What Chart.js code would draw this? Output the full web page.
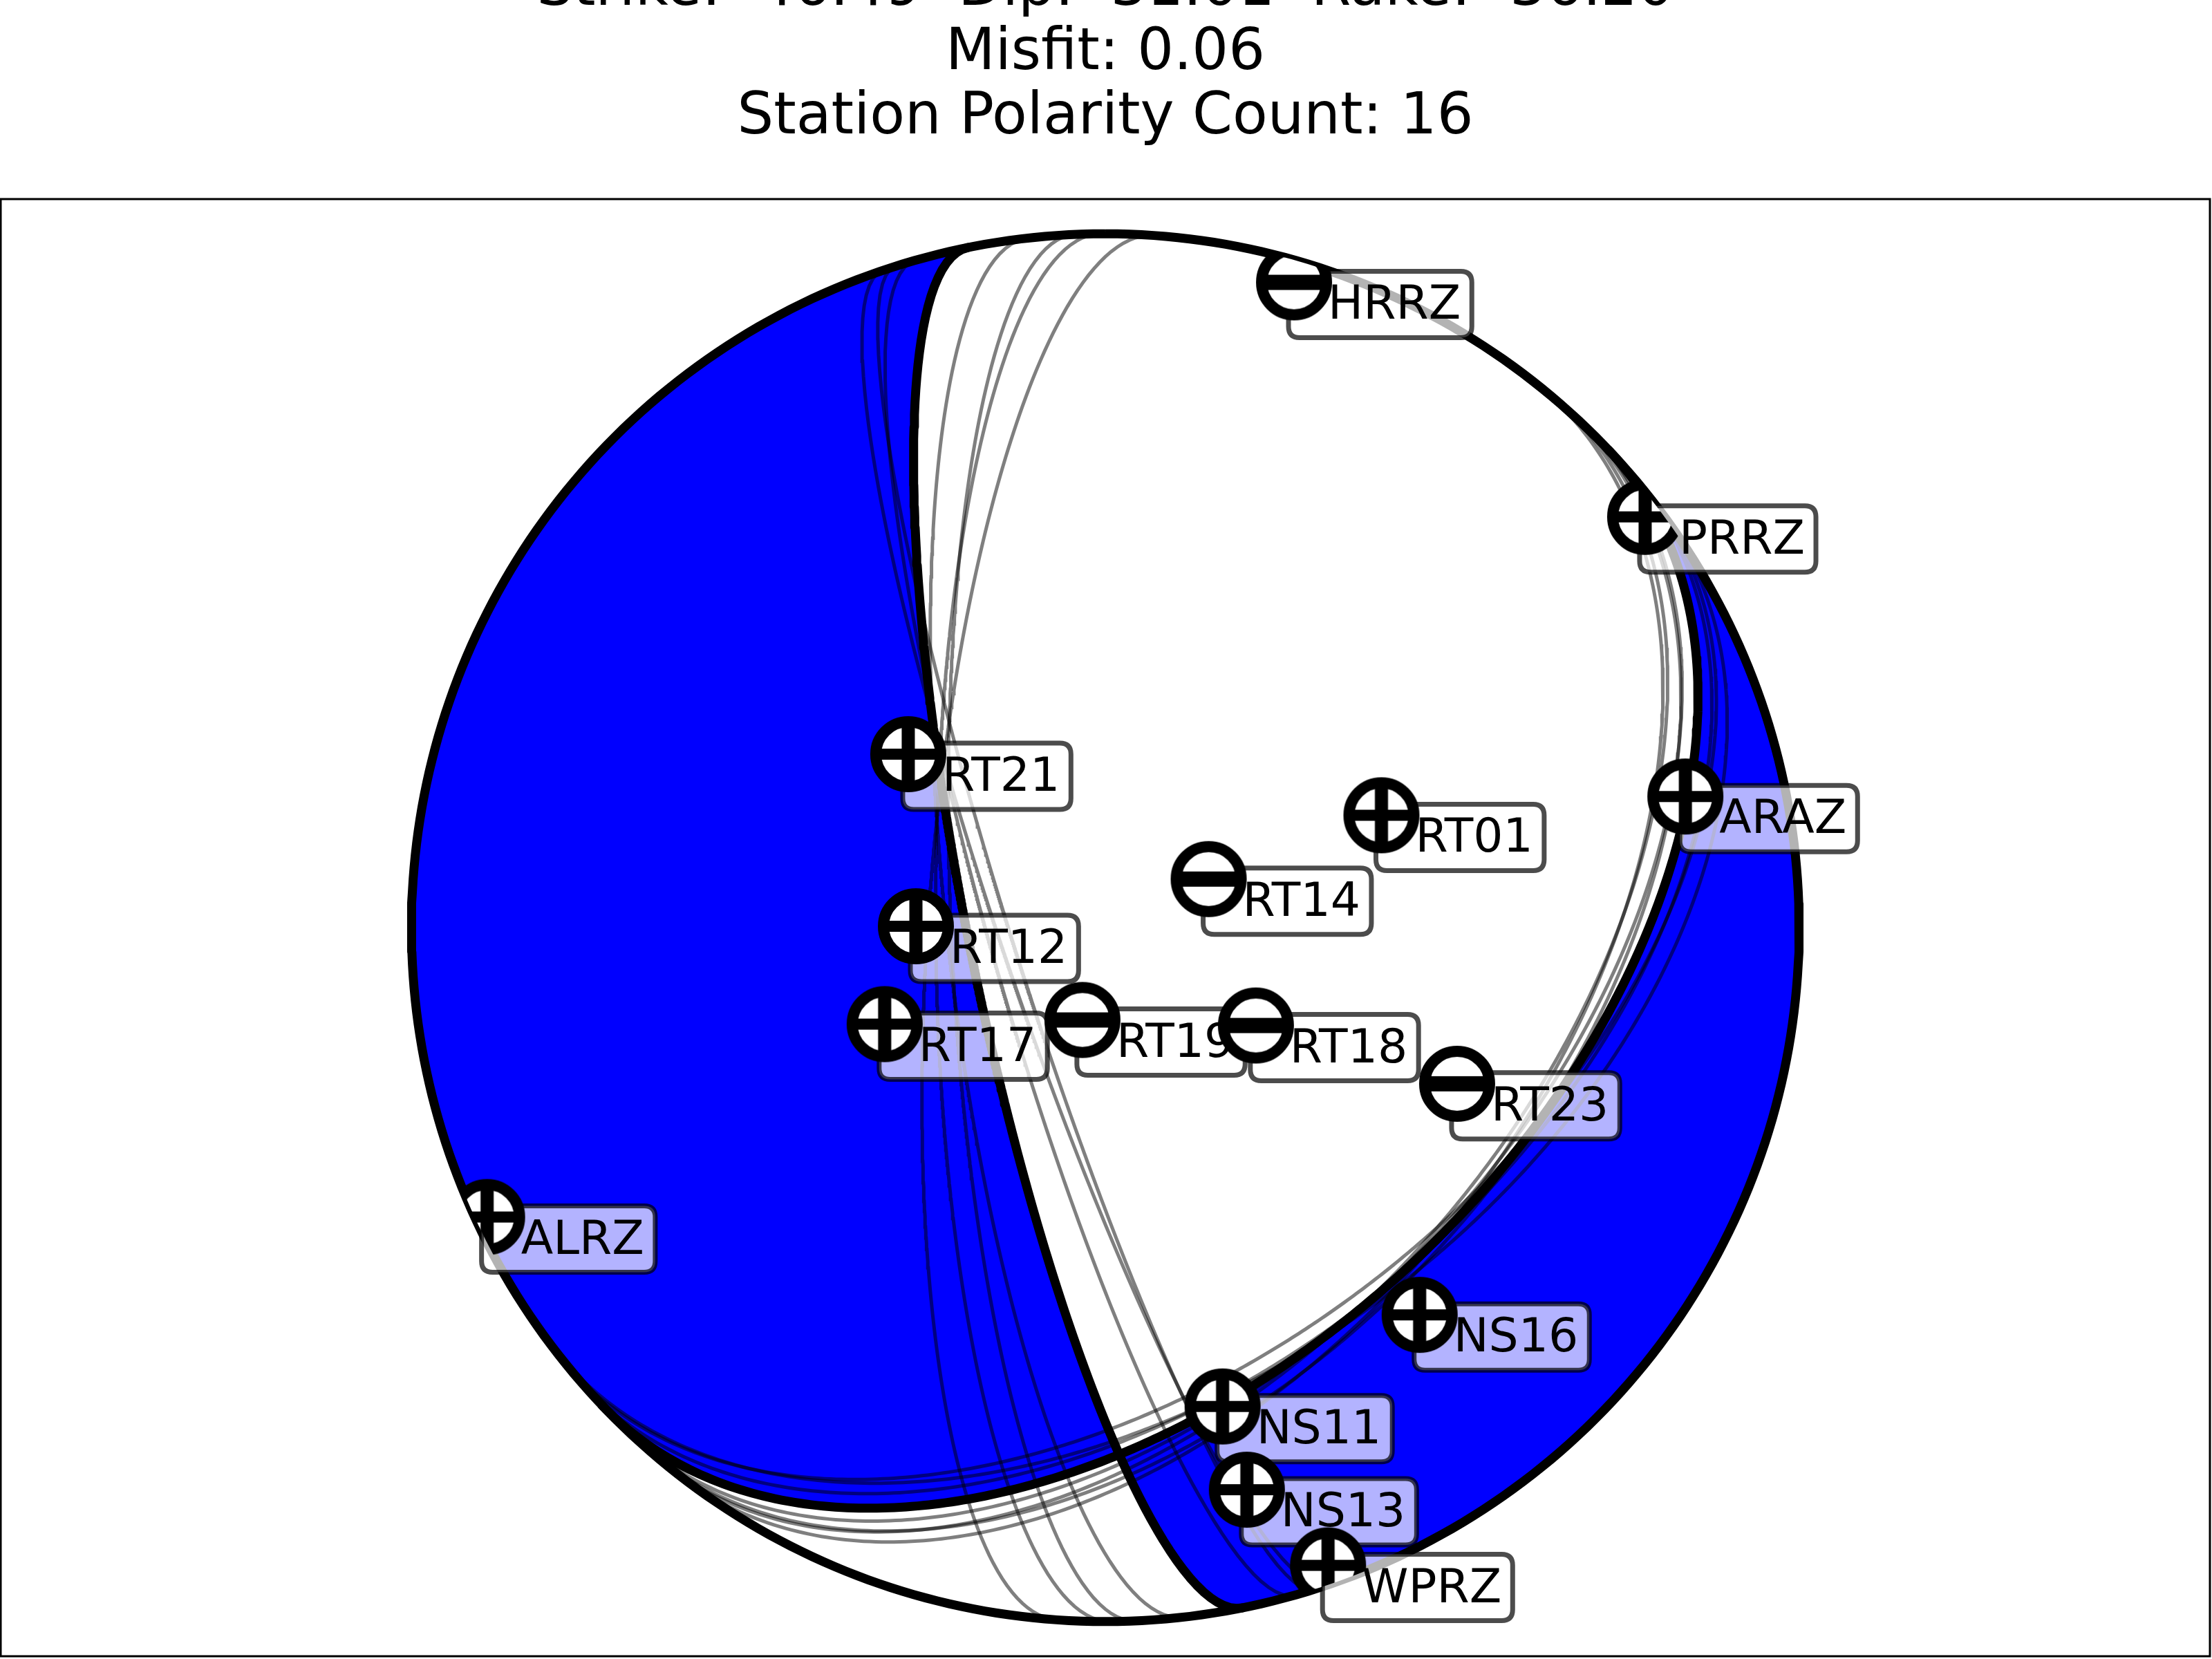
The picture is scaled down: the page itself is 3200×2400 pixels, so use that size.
<!DOCTYPE html>
<html>
<head>
<meta charset="utf-8">
<style>
  html, body { margin: 0; padding: 0; background: #ffffff; }
  #wrap { width: 3200px; height: 2400px; position: relative; }
  canvas { display: block; }
</style>
<script src="https://cdn.jsdelivr.net/npm/chart.js@4.4.1/dist/chart.umd.min.js"></script>
</head>
<body>
<div id="wrap"><canvas id="c" width="3200" height="2400"></canvas></div>
<script>
// ---------------- data ----------------
const titleLines = [
  'Strike:  46.49  Dip:  31.01  Rake: -36.20',
  'Misfit: 0.06',
  'Station Polarity Count: 16'
];
// best double-couple solution: strike, dip, rake (degrees)
const bestMechanism = [46.49, 31.01, -36.20];

// alternative (acceptable) nodal planes: strike / dip (degrees)
const altStrikeA = [161.3, 162.4, 164.1, 173.6, 177.5, 179.6, 184.0];
const altDipA    = [76.5, 78.0, 75.0, 69.5, 70.0, 68.0, 67.0];
const altStrikeB = [38.0, 40.0, 41.5, 43.0, 50.0, 52.0, 53.5];
const altDipB    = [31.0, 32.0, 30.0, 31.5, 31.0, 32.5, 30.0];

// stations (projected position on the focal sphere, unit radius)
const stationNames = ['HRRZ','PRRZ','RT21','RT01','ARAZ','RT14','RT12','RT17',
                      'RT19','RT18','RT23','ALRZ','NS16','NS11','NS13','WPRZ'];
const stationX = [0.272, 0.778, -0.284, 0.398, 0.836, 0.149, -0.273, -0.318,
                  -0.033, 0.217, 0.507, -0.891, 0.453, 0.169, 0.204, 0.321];
const stationY = [0.930, 0.592, 0.250, 0.162, 0.189, 0.070, 0.002, -0.139,
                  -0.133, -0.141, -0.225, -0.417, -0.558, -0.690, -0.810, -0.919];
const stationPolarity = ['-','+','+','+','+','-','+','+',
                         '-','-','-','+','+','+','+','+'];

// axis limits (equal aspect)
const xLimits = [-1.592, 1.592];
const yLimits = [-1.05, 1.05];

// ---------------- geometry helpers ----------------
const D2R = Math.PI / 180;

function auxPlane(strike, dip, rake) {
  const s = strike * D2R, d = dip * D2R, r = rake * D2R;
  let n = Math.cos(r) * Math.cos(s) + Math.sin(r) * Math.cos(d) * Math.sin(s);
  let e = Math.cos(r) * Math.sin(s) - Math.sin(r) * Math.cos(d) * Math.cos(s);
  let dn = -Math.sin(r) * Math.sin(d);
  if (dn > 0) { n = -n; e = -e; dn = -dn; }
  const dipDir = Math.atan2(e, n) / D2R;
  const dip2 = Math.acos(Math.min(1, -dn)) / D2R;
  const strike2 = (((dipDir - 90) % 360) + 360) % 360;
  return [strike2, dip2];
}

// nodal line as drawn by beachball routines (half ellipse)
function nodalCurve(strike, dip, n) {
  n = n || 360;
  const b = (90 - dip) / 90;
  const pts = [];
  for (let k = 0; k <= n; k++) {
    const phi = Math.PI * k / n;
    const s = Math.sin(phi), c = Math.cos(phi);
    const r = b / Math.sqrt(s * s + b * b * c * c);
    const az = strike * D2R + phi;
    pts.push({x: r * Math.sin(az), y: r * Math.cos(az)});
  }
  return pts;
}

function arcPts(az0, az1) {
  const pts = [];
  const step = az1 > az0 ? 1 : -1;
  const n = Math.ceil(Math.abs(az1 - az0));
  for (let k = 0; k <= n; k++) {
    const az = (k === n ? az1 : az0 + step * k) * D2R;
    pts.push({x: Math.sin(az), y: Math.cos(az)});
  }
  return pts;
}

function intersect(P, Q) {
  for (let i = 0; i < P.length - 1; i++) {
    const p1 = P[i], p2 = P[i + 1];
    for (let j = 0; j < Q.length - 1; j++) {
      const p3 = Q[j], p4 = Q[j + 1];
      const den = (p2.x - p1.x) * (p4.y - p3.y) - (p2.y - p1.y) * (p4.x - p3.x);
      if (Math.abs(den) < 1e-14) continue;
      const t = ((p3.x - p1.x) * (p4.y - p3.y) - (p3.y - p1.y) * (p4.x - p3.x)) / den;
      const u = ((p3.x - p1.x) * (p2.y - p1.y) - (p3.y - p1.y) * (p2.x - p1.x)) / den;
      if (t >= 0 && t <= 1 && u >= 0 && u <= 1) {
        return {i, j, pt: {x: p1.x + t * (p2.x - p1.x), y: p1.y + t * (p2.y - p1.y)}};
      }
    }
  }
  return null;
}

const s1 = bestMechanism[0], d1 = bestMechanism[1];
const [s2, d2] = auxPlane(bestMechanism[0], bestMechanism[1], bestMechanism[2]);
const plane1 = nodalCurve(s1, d1);
const plane2 = nodalCurve(s2, d2);
const cross = intersect(plane1, plane2);
const iB = cross.i, iA = cross.j, I = cross.pt;

// compressional lobe west of plane 2
const lobeWest = [].concat(
  arcPts(s1 + 180, s2 + 180),
  plane2.slice(iA + 1).reverse(),
  [I],
  plane1.slice(iB + 1)
);
// compressional lobe south-east of plane 1
const lobeEast = [].concat(
  plane1.slice(0, iB + 1),
  [I],
  plane2.slice(0, iA + 1).reverse(),
  arcPts(s2, s1)
);
const outline = arcPts(0, 360);

// ---------------- markers ----------------
function makeMarker(pol) {
  const size = 120;
  const c = document.createElement('canvas');
  c.width = size; c.height = size;
  const g = c.getContext('2d');
  const m = size / 2, R = 47;
  g.beginPath();
  g.arc(m, m, R, 0, Math.PI * 2);
  g.fillStyle = '#ffffff';
  g.fill();
  g.save();
  g.clip();
  g.fillStyle = '#000000';
  if (pol === '+') {
    g.fillRect(m - R, m - 8, 2 * R, 16);
    g.fillRect(m - 9.5, m - R, 19, 2 * R);
  } else {
    g.fillRect(m - R, m - 11, 2 * R, 22);
  }
  g.restore();
  g.beginPath();
  g.arc(m, m, R, 0, Math.PI * 2);
  g.lineWidth = 16;
  g.strokeStyle = '#000000';
  g.stroke();
  return c;
}
const markerImgs = stationPolarity.map(makeMarker);

// ---------------- datasets ----------------
const datasets = [];
function lineDs(points, color, width, order, extra) {
  return Object.assign({
    data: points,
    showLine: true,
    borderColor: color,
    borderWidth: width,
    pointRadius: 0,
    fill: false,
    tension: 0,
    order: order
  }, extra || {});
}
datasets.push(lineDs(lobeWest, 'rgba(0,0,0,0)', 0, 6, {fill: 'shape', backgroundColor: '#0000ff'}));
datasets.push(lineDs(lobeEast, 'rgba(0,0,0,0)', 0, 6, {fill: 'shape', backgroundColor: '#0000ff'}));
for (let k = 0; k < altStrikeA.length; k++) {
  datasets.push(lineDs(nodalCurve(altStrikeA[k], altDipA[k]), 'rgba(0,0,0,0.5)', 5, 4));
}
for (let k = 0; k < altStrikeB.length; k++) {
  datasets.push(lineDs(nodalCurve(altStrikeB[k], altDipB[k]), 'rgba(0,0,0,0.5)', 5, 4));
}
datasets.push(lineDs(plane1, '#000000', 13, 3, {borderCapStyle: 'round', borderJoinStyle: 'round'}));
datasets.push(lineDs(plane2, '#000000', 13, 3, {borderCapStyle: 'round', borderJoinStyle: 'round'}));
datasets.push(lineDs(outline, '#000000', 13, 3, {borderJoinStyle: 'round'}));
datasets.push({
  role: 'stations',
  data: stationX.map((x, i) => ({x: x, y: stationY[i]})),
  showLine: false,
  pointStyle: markerImgs,
  pointRadius: 55,
  pointHoverRadius: 55,
  order: 0
});

// ---------------- plugins ----------------
const stationPlugin = {
  id: 'stationPlugin',
  beforeDatasetDraw(chart, args) {
    const ds = chart.data.datasets[args.index];
    if (ds.role !== 'stations') return;
    const ctx = chart.ctx;
    const xs = chart.scales.x, ys = chart.scales.y;
    // labels (under markers)
    ctx.save();
    ctx.font = '68px "DejaVu Sans"';
    ctx.textBaseline = 'alphabetic';
    ctx.textAlign = 'left';
    for (let i = 0; i < stationNames.length; i++) {
      const px = xs.getPixelForValue(stationX[i]);
      const py = ys.getPixelForValue(stationY[i]);
      const tw = ctx.measureText(stationNames[i]).width;
      const bx = px - 8, by = py - 16, bw = tw + 57 + 16, bh = 96, rr = 16;
      ctx.beginPath();
      ctx.moveTo(bx + rr, by);
      ctx.lineTo(bx + bw - rr, by);
      ctx.quadraticCurveTo(bx + bw, by, bx + bw, by + rr);
      ctx.lineTo(bx + bw, by + bh - rr);
      ctx.quadraticCurveTo(bx + bw, by + bh, bx + bw - rr, by + bh);
      ctx.lineTo(bx + rr, by + bh);
      ctx.quadraticCurveTo(bx, by + bh, bx, by + bh - rr);
      ctx.lineTo(bx, by + rr);
      ctx.quadraticCurveTo(bx, by, bx + rr, by);
      ctx.closePath();
      ctx.fillStyle = 'rgba(255,255,255,0.7)';
      ctx.fill();
      ctx.lineWidth = 7;
      ctx.strokeStyle = 'rgba(0,0,0,0.7)';
      ctx.stroke();
      ctx.fillStyle = '#000000';
      ctx.fillText(stationNames[i], px + 49, py + 53);
    }
    ctx.restore();
    // clip markers to the focal sphere
    const cx = xs.getPixelForValue(0), cy = ys.getPixelForValue(0);
    const R = Math.abs(ys.getPixelForValue(1) - cy);
    ctx.save();
    ctx.beginPath();
    ctx.arc(cx, cy, R, 0, Math.PI * 2);
    ctx.clip();
  },
  afterDatasetDraw(chart, args) {
    const ds = chart.data.datasets[args.index];
    if (ds.role !== 'stations') return;
    chart.ctx.restore();
  },
  afterDraw(chart) {
    const ctx = chart.ctx;
    const a = chart.chartArea;
    ctx.save();
    ctx.lineWidth = 3;
    ctx.strokeStyle = '#000000';
    ctx.strokeRect(a.left, a.top, a.right - a.left, a.bottom - a.top);
    ctx.font = '83px "DejaVu Sans"';
    ctx.fillStyle = '#000000';
    ctx.textAlign = 'center';
    ctx.textBaseline = 'alphabetic';
    const baselines = [7, 100, 193];
    titleLines.forEach((t, k) => ctx.fillText(t, 1599, baselines[k]));
    ctx.restore();
  }
};

new Chart(document.getElementById('c'), {
  type: 'scatter',
  data: {datasets: datasets},
  options: {
    responsive: false,
    maintainAspectRatio: false,
    devicePixelRatio: 1,
    animation: false,
    events: [],
    layout: {autoPadding: false, padding: {top: 288, left: 1, right: 3, bottom: 4}},
    scales: {
      x: {type: 'linear', min: xLimits[0], max: xLimits[1], display: false},
      y: {type: 'linear', min: yLimits[0], max: yLimits[1], display: false}
    },
    plugins: {
      legend: {display: false},
      title: {display: false},
      tooltip: {enabled: false}
    }
  },
  plugins: [stationPlugin]
});
</script>
</body>
</html>
